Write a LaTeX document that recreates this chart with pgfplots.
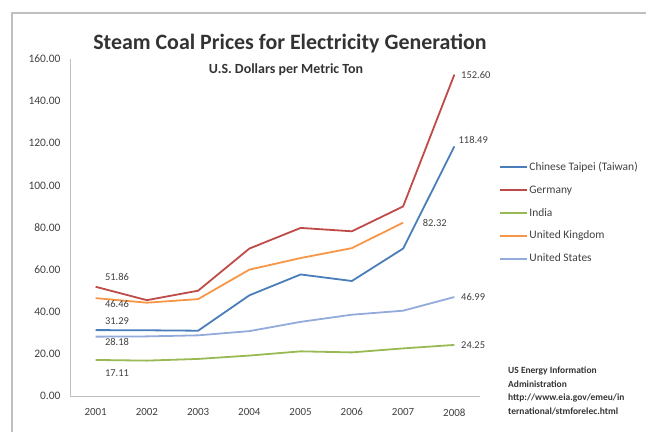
\documentclass[border=0pt]{standalone}
\usepackage{pgfplots}
\pgfplotsset{compat=1.18}
\usepackage{fontspec}
\setmainfont{Carlito}
\definecolor{cTw}{HTML}{4A7EBB}
\definecolor{cDe}{HTML}{BE4B48}
\definecolor{cIn}{HTML}{98B954}
\definecolor{cUk}{HTML}{F79646}
\definecolor{cUs}{HTML}{93ABDB}
\definecolor{axgray}{HTML}{BFBFBF}
\definecolor{txt}{HTML}{404040}
\begin{document}
\begin{tikzpicture}
\useasboundingbox (-70bp,-36bp) rectangle (576bp,396bp);
\draw[color=black!25, line width=1.5bp] (-58bp,-40bp) -- (-58bp,383bp) -- (580bp,383bp);
\begin{axis}[
  at={(0,0)}, anchor=south west,
  scale only axis, width=410bp, height=337bp,
  xmin=2000.5, xmax=2008.5, ymin=0, ymax=160,
  axis x line*=bottom, axis y line*=left,
  axis line style={color=axgray, line width=0.8bp},
  xtick={2001,...,2008}, ytick={0,20,...,160},
  major tick length=0pt,
  xticklabel style={/pgf/number format/1000 sep=, font=\fontsize{11}{12}\selectfont, text=txt, yshift=-9bp},
  yticklabel style={/pgf/number format/fixed, /pgf/number format/fixed zerofill, /pgf/number format/precision=2, font=\fontsize{11.5}{12}\selectfont, text=txt, xshift=-6bp},
  /pgf/number format/assume math mode=true,
  every axis plot/.append style={line width=1.8bp, mark=none},
  legend style={draw=none, fill=none, at={(1.045,0.70)}, anchor=north west,
    font=\fontsize{11.5}{12}\selectfont, text=txt, row sep=9.5bp, inner sep=0pt},
  legend cell align=left,
  legend image code/.code={\draw[#1] (0bp,0bp) -- (27bp,0bp);},
  clip=false,
]
\addplot[cTw] coordinates {(2001,31.29) (2002,31.2) (2003,31.0) (2004,47.8) (2005,57.7) (2006,54.6) (2007,70.0) (2008,118.49)};
\addlegendentry{Chinese Taipei (Taiwan)}
\addplot[cDe] coordinates {(2001,51.86) (2002,45.5) (2003,50.0) (2004,70.0) (2005,79.8) (2006,78.2) (2007,90.0) (2008,152.60)};
\addlegendentry{Germany}
\addplot[cIn] coordinates {(2001,17.11) (2002,16.8) (2003,17.6) (2004,19.2) (2005,21.2) (2006,20.7) (2007,22.6) (2008,24.25)};
\addlegendentry{India}
\addplot[cUk] coordinates {(2001,46.46) (2002,44.3) (2003,46.0) (2004,60.0) (2005,65.5) (2006,70.2) (2007,82.32)};
\addlegendentry{United Kingdom}
\addplot[cUs] coordinates {(2001,28.18) (2002,28.3) (2003,28.8) (2004,30.8) (2005,35.2) (2006,38.6) (2007,40.5) (2008,46.99)};
\addlegendentry{United States}
\begin{scope}[every node/.style={font=\fontsize{10.5}{11}\selectfont, text=txt, anchor=west, inner sep=0pt}]
\node at (axis cs:2001.18,56.5) {51.86};
\node at (axis cs:2001.18,43.5) {46.46};
\node at (axis cs:2001.18,35.5) {31.29};
\node at (axis cs:2001.18,25.8) {28.18};
\node at (axis cs:2001.18,10.9) {17.11};
\node at (axis cs:2008.13,152.6) {152.60};
\node at (axis cs:2008.08,121.5) {118.49};
\node at (axis cs:2007.38,82.0) {82.32};
\node at (axis cs:2008.13,47.0) {46.99};
\node at (axis cs:2008.13,24.25) {24.25};
\end{scope}
\node[font=\fontsize{9.5}{13.5}\selectfont\bfseries, text=black!80, anchor=north west, align=left, inner sep=0pt] at (438bp,29bp) {US Energy Information\\Administration\\http://www.eia.gov/emeu/in\\ternational/stmforelec.html};
\end{axis}
\node[font=\fontsize{22}{24}\selectfont\bfseries, text=black!80] at (220bp,352bp) {Steam Coal Prices for Electricity Generation};
\node[font=\fontsize{14}{15}\selectfont\bfseries, text=black!80] at (216bp,326bp) {U.S. Dollars per Metric Ton};
\end{tikzpicture}
\end{document}
